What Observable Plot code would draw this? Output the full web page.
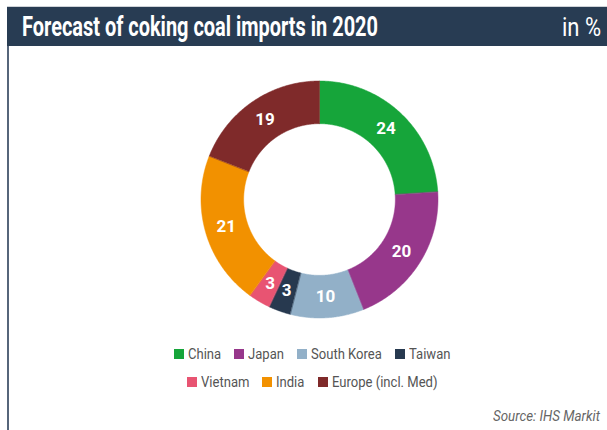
<!DOCTYPE html>
<html>
<head>
<meta charset="utf-8">
<script src="https://cdn.jsdelivr.net/npm/d3@7"></script>
<script src="https://cdn.jsdelivr.net/npm/@observablehq/plot@0.6"></script>
<style>
  html, body { margin: 0; padding: 0; background: #fff; }
  body { width: 607px; height: 430px; position: relative; overflow: hidden; font-family: Roboto, sans-serif; }
  .topline { position: absolute; left: 7px; top: 6px; width: 600px; height: 1px; background: #cfd3d8; }
  .bar { position: absolute; left: 7px; top: 7px; width: 600px; height: 39px; background: #283c53; color: #fff; }
  .cond { position: absolute; display: inline-block; white-space: nowrap; transform-origin: 0 50%; line-height: 1; }
  .leftline { position: absolute; left: 7px; top: 46px; width: 2px; height: 384px; background: #56657a; }
  #chart { position: absolute; left: 0; top: 50px; }
  .sw { position: absolute; width: 10px; height: 10px; }
</style>
</head>
<body>
<div class="topline"></div>
<div class="bar" id="bar"></div>
<div class="leftline"></div>
<div id="chart"></div>
<div id="legend"></div>
<script>
const titleText = "Forecast of coking coal imports in 2020";
const unitText = "in %";
const sourceText = "Source: IHS Markit";
const countries = ["China", "Japan", "South Korea", "Taiwan", "Vietnam", "India", "Europe (incl. Med)"];
const shares = [24, 20, 10, 3, 3, 21, 19];
const colors = ["#16a53a", "#97378b", "#92b0c8", "#27394f", "#e85472", "#f29100", "#7f2a2a"];
const legendRows = [["China", "Japan", "South Korea", "Taiwan"], ["Vietnam", "India", "Europe (incl. Med)"]];

// condensed text helper: real text, horizontally compressed to mimic a condensed face
function condText(parent, text, {left, right, centerY, size, weight = "normal", style = "normal", color, scale}) {
  const el = document.createElement("span");
  el.className = "cond";
  el.textContent = text;
  el.style.fontSize = size + "px";
  el.style.fontWeight = weight;
  el.style.fontStyle = style;
  el.style.color = color;
  parent.appendChild(el);
  const r = el.getBoundingClientRect();
  const w = r.width * scale;
  el.style.transform = `scaleX(${scale})`;
  el.style.top = (centerY - r.height / 2) + "px";
  el.style.left = (left !== undefined ? left : right - w) + "px";
  return w;
}

const bar = document.getElementById("bar");
// title: fit to the reference's condensed width
{
  const probe = document.createElement("span");
  probe.className = "cond"; probe.style.fontSize = "27px"; probe.style.fontWeight = "bold";
  probe.textContent = titleText; bar.appendChild(probe);
  const w = probe.getBoundingClientRect().width; bar.removeChild(probe);
  condText(bar, titleText, {left: 15, centerY: 20, size: 27, weight: "bold", color: "#fff", scale: 356 / w});
}
condText(bar, unitText, {right: 594, centerY: 20, size: 25, color: "#fff", scale: 0.88});

// donut
const innerR = 0.64, outerR = 1, labelR = 0.82;
const total = d3.sum(shares);
const pts = [];
const labels = [];
let cum = 0;
countries.forEach((c, i) => {
  const a0 = cum / total * 2 * Math.PI;
  cum += shares[i];
  const a1 = cum / total * 2 * Math.PI;
  const n = Math.max(2, Math.ceil((a1 - a0) / (Math.PI / 360)));
  for (let k = 0; k <= n; k++) {
    const a = a0 + (a1 - a0) * k / n;
    pts.push({country: c, x: outerR * Math.sin(a), y: outerR * Math.cos(a)});
  }
  for (let k = n; k >= 0; k--) {
    const a = a0 + (a1 - a0) * k / n;
    pts.push({country: c, x: innerR * Math.sin(a), y: innerR * Math.cos(a)});
  }
  const m = (a0 + a1) / 2;
  labels.push({country: c, value: shares[i], x: labelR * Math.sin(m), y: labelR * Math.cos(m)});
});

const cx = 319, cy = 149, R = 118.5;
const plot = Plot.plot({
  width: 607,
  height: 290,
  margin: 0,
  x: {domain: [-1, 1], range: [cx - R, cx + R], axis: null},
  y: {domain: [-1, 1], range: [cy + R, cy - R], axis: null},
  color: {domain: countries, range: colors},
  marks: [
    Plot.line(pts, {x: "x", y: "y", z: "country", fill: "country", stroke: "country", strokeWidth: 0.5, curve: "linear-closed"}),
    Plot.text(labels, {x: "x", y: "y", text: d => String(d.value), fill: "white", fontSize: 17, fontWeight: "bold",
      fontFamily: "Roboto, sans-serif"})
  ]
});
document.getElementById("chart").appendChild(plot);

// legend
const leg = document.getElementById("legend");
const legScale = 0.87, legSize = 15, legCenter = 312, rowY = [354, 382];
legendRows.forEach((names, ri) => {
  // measure
  const widths = names.map(n => {
    const p = document.createElement("span");
    p.className = "cond"; p.style.fontSize = legSize + "px"; p.textContent = n;
    leg.appendChild(p); const w = p.getBoundingClientRect().width * legScale; leg.removeChild(p);
    return w;
  });
  const swW = 10, gap = 4, spacing = 13;
  const totalW = d3.sum(widths) + names.length * (swW + gap) + (names.length - 1) * spacing;
  let x = legCenter - totalW / 2;
  names.forEach((n, i) => {
    const sw = document.createElement("div");
    sw.className = "sw";
    sw.style.left = x + "px";
    sw.style.top = (rowY[ri] - 5) + "px";
    sw.style.background = colors[countries.indexOf(n)];
    leg.appendChild(sw);
    x += swW + gap;
    condText(leg, n, {left: x, centerY: rowY[ri], size: legSize, color: "#555", scale: legScale});
    x += widths[i] + spacing;
  });
});

// source
condText(document.body, sourceText, {right: 600, centerY: 417, size: 14.5, style: "italic", color: "#666", scale: 0.92});
</script>
</body>
</html>
